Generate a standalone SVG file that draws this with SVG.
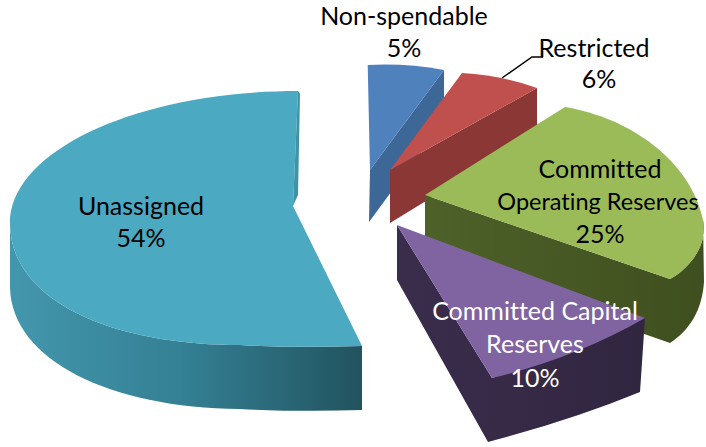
<svg xmlns="http://www.w3.org/2000/svg" width="706" height="447" viewBox="0 0 706 447">
<style>
text{font-family:Lato,"Open Sans","Liberation Sans",sans-serif;font-size:25px;text-anchor:middle;fill:#000;font-variant-ligatures:none;font-feature-settings:"liga" 0}
.w{fill:#fff}
.sm{font-size:23.5px}
.lead{fill:none;stroke:#000;stroke-width:1.5}
</style>
<defs>
<linearGradient id="gU" x1="10" y1="0" x2="362" y2="0" gradientUnits="userSpaceOnUse">
<stop offset="0" stop-color="#4397AD"/><stop offset="0.5" stop-color="#347F93"/><stop offset="1" stop-color="#22535F"/>
</linearGradient>
<linearGradient id="gG" x1="425" y1="0" x2="704" y2="0" gradientUnits="userSpaceOnUse">
<stop offset="0" stop-color="#4E6129"/><stop offset="1" stop-color="#3F4F1F"/>
</linearGradient>
<linearGradient id="gP" x1="397" y1="0" x2="645" y2="0" gradientUnits="userSpaceOnUse">
<stop offset="0" stop-color="#3A2D4C"/><stop offset="1" stop-color="#312640"/>
</linearGradient>
</defs>
<g id="slice-nonspendable">
<path d="M444,70 L444,120 L369,222 L370,170 Z" fill="#3C6797"/>
<path d="M367.7,65 Q406,63 444,70 L370,170 Z" fill="#4F81BD"/>
<text x="404" y="25">Non-spendable</text>
<text x="404" y="57">5%</text>
</g>
<g id="slice-restricted">
<path d="M537,88 L537,133 L390,223 L390,170 Z" fill="#8B3735"/>
<path d="M462,73 Q504,75.8 537,88 L390,170 Z" fill="#C0504D"/>
<text x="594" y="57">Restricted</text>
<text x="599" y="88">6%</text>
</g>
<g id="slice-unassigned">
<path d="M10,223 C10,300 110,345 240,345 Q300,348 362,346 L362,410 Q300,412 240,409 C110,408 12,360 10,288 Z" fill="url(#gU)"/>
<path d="M298,91 C139,91 10,150 10,223 C10,300 110,345 240,345 Q300,348 362,346 L293,206 Z" fill="#4BA9C1"/>
<path d="M298,91 L300,94 L298,195 L293,206 Z" fill="#3F93A8"/>
<text x="141" y="215">Unassigned</text>
<text x="141" y="247">54%</text>
</g>
<g id="slice-operating">
<path d="M425,195 L670,279 C690,268 708,245 703,220 L704,282 C702,310 690,330 670,343 L425,257 Z" fill="url(#gG)"/>
<path d="M425,195 L565,107 C630,118 690,160 703,220 C708,245 690,268 670,279 Z" fill="#9BBB59"/>
<text x="600" y="178">Committed</text>
<text class="sm" x="598" y="210">Operating Reserves</text>
<text x="600" y="243">25%</text>
</g>
<g id="slice-capital">
<path d="M397,225 L397,280 L488,442 Q572,420 640,392 L645,318 L492,378 Z" fill="url(#gP)"/>
<path d="M397,225 L492,378 Q575.5,358 645,318 Z" fill="#8064A2"/>
<text class="w" x="535" y="320">Committed Capital</text>
<text class="w" x="535" y="353">Reserves</text>
<text class="w" x="535" y="387">10%</text>
</g>
<g id="connectors">
<path class="lead" d="M502,78 L532,57 L543,57"/>
</g>
</svg>
